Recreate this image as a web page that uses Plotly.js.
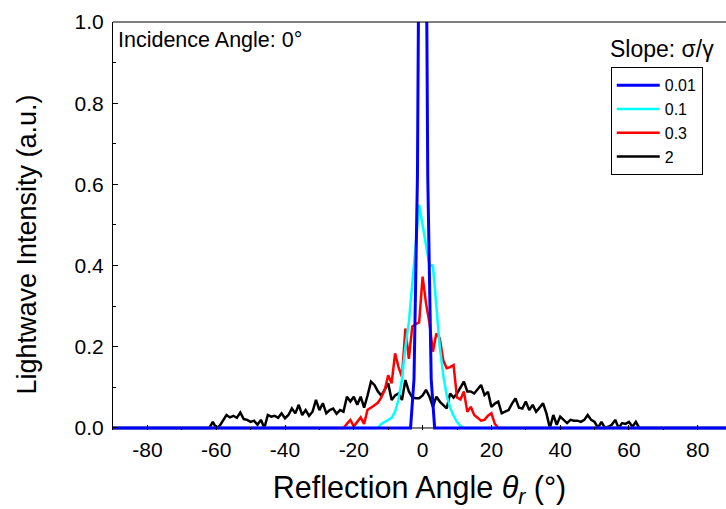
<!DOCTYPE html>
<html>
<head>
<meta charset="utf-8">
<script src="https://cdn.plot.ly/plotly-3.0.1.min.js"></script>
<style>html,body{margin:0;padding:0;background:#fff;}#chart{width:726px;height:509px;}</style>
</head>
<body>
<div id="chart"></div>
<script>
// Series names (legend)
const seriesNames = ["0.01", "0.1", "0.3", "2"];

// sigma/gamma = 0.01 (blue)
const blueX = [-90, -3.5, -2.5, -1.5, -0.5, 0.5, 1.5, 2.5, 3.5, 90];
const blueY = [0, 0, 0.12, 0.62, 2.0, 2.0, 0.62, 0.12, 0, 0];

// sigma/gamma = 0.1 (cyan)
const cyanX = [-90, -13, -12, -11, -10, -9, -8, -7, -6, -5, -4, -3, -2, -1, 0, 1, 2, 3, 4, 5, 6, 7, 8, 9, 10, 11, 12, 90];
const cyanY = [0, 0, 0.01, 0.015, 0.02, 0.025, 0.04, 0.07, 0.12, 0.2, 0.26, 0.35, 0.45, 0.55, 0.5, 0.44, 0.40, 0.40, 0.30, 0.2, 0.13, 0.08, 0.05, 0.03, 0.015, 0.005, 0, 0];

// sigma/gamma = 0.3 (red)
const redX = [-90, -24, -23, -22, -21, -20, -19, -18, -17, -16, -15, -14, -13, -12, -11, -10, -9, -8, -7, -6, -5, -4, -3, -2, -1, 0, 1, 2, 3, 4, 5, 6, 7, 8, 9, 10, 11, 12, 13, 14, 15, 16, 17, 18, 19, 20, 21, 22, 90];
const redY = [0, 0, 0, 0.01, 0.02, 0.004, 0.015, 0.026, 0.01, 0.045, 0.05, 0.055, 0.062, 0.075, 0.094, 0.13, 0.11, 0.184, 0.15, 0.126, 0.245, 0.17, 0.25, 0.256, 0.26, 0.373, 0.307, 0.258, 0.188, 0.233, 0.221, 0.167, 0.147, 0.15, 0.155, 0.075, 0.07, 0.09, 0.04, 0.052, 0.032, 0.025, 0.018, 0.02, 0.03, 0.036, 0.01, 0, 0];

// sigma/gamma = 2 (black)
const blackX = [-90,
  -63, -62, -61, -60, -59, -58, -57, -56, -55, -54, -53, -52, -51, -50, -49, -48, -47, -46, -45, -44,
  -43, -42, -41, -40, -39, -38, -37, -36, -35, -34, -33, -32, -31, -30, -29, -28, -27, -26, -25, -24,
  -23, -22, -21, -20, -19, -18, -17, -16, -15, -14, -13, -12, -11, -10, -9, -8, -7, -6, -5, -4,
  -3, -2, -1, 0, 1, 2, 3, 4, 5, 6, 7, 8, 9, 10, 11, 12, 13, 14, 15, 16,
  17, 18, 19, 20, 21, 22, 23, 24, 25, 26, 27, 28, 29, 30, 31, 32, 33, 34, 35, 36,
  37, 38, 39, 40, 41, 42, 43, 44, 45, 46, 47, 48, 49, 50, 51, 52, 53, 54, 55, 56,
  57, 58, 59, 60, 61, 62, 63, 64,
  90];
const blackY = [0,
  0, 0, 0.015, 0, 0.005, 0.02, 0.032, 0.026, 0.03, 0.025, 0.038, 0.022, 0.02, 0.015, 0.018, 0.008, 0.02, 0, 0.032, 0.028,
  0.03, 0.025, 0.036, 0.024, 0.032, 0.048, 0.036, 0.057, 0.032, 0.044, 0.03, 0.04, 0.069, 0.044, 0.061, 0.036, 0.044, 0.048, 0.035, 0.044,
  0.04, 0.077, 0.065, 0.077, 0.057, 0.077, 0.05, 0.08, 0.114, 0.106, 0.09, 0.08, 0.094, 0.11, 0.069, 0.08, 0.085, 0.069, 0.118, 0.09,
  0.075, 0.073, 0.073, 0.08, 0.094, 0.077, 0.052, 0.077, 0.065, 0.057, 0.048, 0.085, 0.075, 0.085, 0.1, 0.114, 0.09, 0.09, 0.085, 0.095,
  0.106, 0.081, 0.089, 0.052, 0.06, 0.065, 0.036, 0.04, 0.044, 0.06, 0.073, 0.05, 0.048, 0.065, 0.044, 0.057, 0.04, 0.05, 0.061, 0.036,
  0, 0.032, 0.008, 0.028, 0.02, 0.012, 0.02, 0.018, 0.018, 0.015, 0.02, 0.032, 0.02, 0.015, 0, 0.015, 0, 0.003, 0.008, 0.02,
  0, 0.012, 0.01, 0.015, 0.003, 0.015, 0, 0,
  0];

// Tick labels
const xTickVals = [-80, -60, -40, -20, 0, 20, 40, 60, 80];
const xTickText = ["-80", "-60", "-40", "-20", "0", "20", "40", "60", "80"];
const yTickVals = [0, 0.2, 0.4, 0.6, 0.8, 1.0];
const yTickText = ["0.0", "0.2", "0.4", "0.6", "0.8", "1.0"];

const FONT = "'Liberation Sans', Arial, sans-serif";

const traces = [
  {x: blackX, y: blackY, name: seriesNames[3], type: "scatter", mode: "lines", line: {color: "#000000", width: 2.5}},
  {x: redX, y: redY, name: seriesNames[2], type: "scatter", mode: "lines", line: {color: "#ff0000", width: 2.5}},
  {x: cyanX, y: cyanY, name: seriesNames[1], type: "scatter", mode: "lines", line: {color: "#00ffff", width: 2.5}},
  {x: blueX, y: blueY, name: seriesNames[0], type: "scatter", mode: "lines", line: {color: "#0000ff", width: 3}}
];

const layout = {
  width: 726, height: 509,
  margin: {l: 113, r: 0, t: 22, b: 79},
  paper_bgcolor: "#ffffff", plot_bgcolor: "#ffffff",
  font: {family: FONT, color: "#000000"},
  showlegend: true,
  legend: {
    x: 0.812, y: 0.889, xanchor: "left", yanchor: "top",
    traceorder: "reversed",
    bgcolor: "#ffffff", bordercolor: "#000000", borderwidth: 1,
    font: {family: FONT, size: 16, color: "#000000"},
    tracegroupgap: 0,
    itemwidth: 43
  },
  xaxis: {
    range: [-90, 88.2],
    tickmode: "array", tickvals: xTickVals, ticktext: xTickText,
    ticks: "inside", ticklen: 5, tickwidth: 1, tickcolor: "#000000",
    ticklabelstandoff: 5,
    minor: {tickmode: "linear", tick0: 0, dtick: 10, ticks: "inside", ticklen: 3, tickcolor: "#000000"},
    showline: false, showgrid: false, zeroline: false,
    tickfont: {family: FONT, size: 21, color: "#000000"},
    title: {text: "Reflection Angle <i>θ<sub>r</sub></i> (°)", font: {family: FONT, size: 30.5, color: "#000000"}, standoff: 18}
  },
  yaxis: {
    range: [-0.005, 1.0],
    tickmode: "array", tickvals: yTickVals, ticktext: yTickText,
    ticks: "inside", ticklen: 5, tickwidth: 1, tickcolor: "#000000",
    ticklabelstandoff: 4,
    minor: {tickmode: "linear", tick0: 0, dtick: 0.1, ticks: "inside", ticklen: 3, tickcolor: "#000000"},
    showline: true, linecolor: "#000000", linewidth: 1,
    showgrid: false, zeroline: false,
    tickfont: {family: FONT, size: 21, color: "#000000"}
  },
  shapes: [
    {type: "line", xref: "paper", yref: "y", x0: 0, x1: 1, y0: 0, y1: 0, line: {color: "#000000", width: 1}, layer: "below"},
    {type: "line", xref: "paper", yref: "paper", x0: 0, x1: 1, y0: 1, y1: 1, line: {color: "#000000", width: 1}, layer: "above"}
  ],
  annotations: [
    {text: "Lightwave Intensity (a.u.)", textangle: -90, xref: "paper", yref: "paper", x: -0.14, y: 0.455, xanchor: "center", yanchor: "middle", showarrow: false, font: {family: FONT, size: 27, color: "#000000"}},
    {text: "Incidence Angle: 0°", xref: "paper", yref: "paper", x: 0.005, y: 0.955, xanchor: "left", yanchor: "middle", showarrow: false, font: {family: FONT, size: 21.5, color: "#000000"}},
    {text: "Slope: σ/γ", xref: "paper", yref: "paper", x: 0.8956, y: 0.935, xanchor: "center", yanchor: "middle", showarrow: false, font: {family: FONT, size: 23, color: "#000000"}}
  ]
};

Plotly.newPlot("chart", traces, layout, {displayModeBar: false, staticPlot: true});
</script>
</body>
</html>
